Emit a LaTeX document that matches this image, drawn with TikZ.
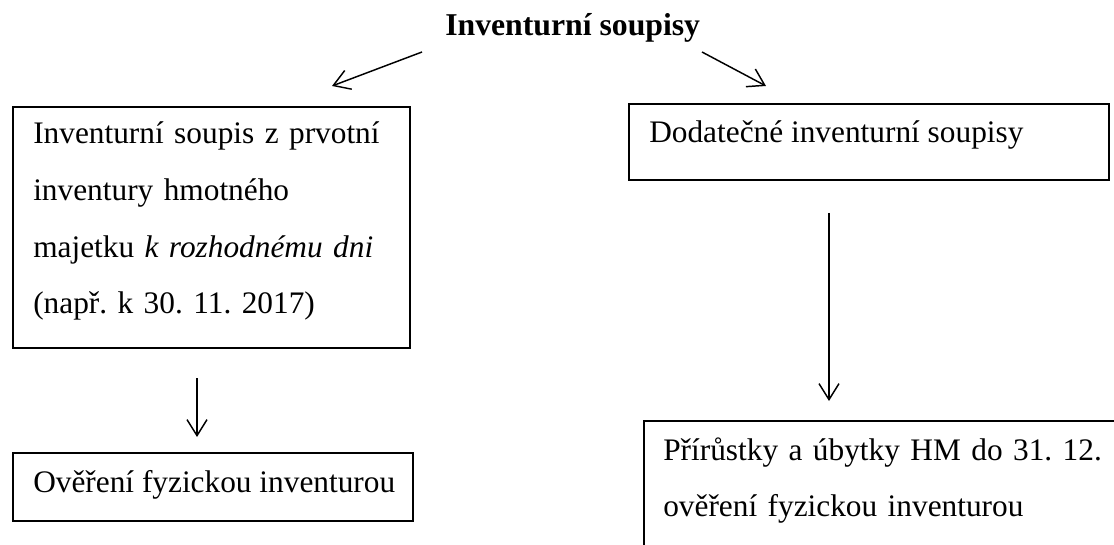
\documentclass[tikz,border=0pt]{standalone}
\usepackage{fontspec}
\setmainfont{Liberation Serif}
\usetikzlibrary{arrows.meta}
\frenchspacing
\begin{document}
\begin{tikzpicture}[x=0.75pt,y=-0.75pt,
  box/.style={draw, line width=1.2pt, rectangle, inner sep=0pt, anchor=north west},
  txt/.style={anchor=base west, inner sep=0pt, align=left, font=\fontsize{23.5}{42.5}\selectfont\frenchspacing},
  arr/.style={line width=1.1pt, -{Straight Barb[length=12pt,width=15pt]}}]
\useasboundingbox (0,0) rectangle (1114,545);
% title
\node[txt, font=\fontsize{23.8}{28}\selectfont\bfseries] (title) at (445,36) {Inventurní soupisy};
% boxes
\node[box, minimum width=297.75pt, minimum height=180.75pt] (b1) at (12,106) {};
\node[box, minimum width=300pt, minimum height=51pt] (b2) at (12,452) {};
\node[box, minimum width=360pt, minimum height=57pt] (b3) at (628,103) {};
\node[box, minimum width=375pt, minimum height=135pt] (b4) at (643,420) {};
% texts
\node[txt, text width=290pt] (t1) at (33,144) {Inventurní soupis z prvotní\\ inventury hmotného\\ majetku \textit{k rozhodnému dni}\\ (např. k 30. 11. 2017)};
\node[txt] (t2) at (33,492) {Ověření fyzickou inventurou};
\node[txt] (t3) at (649,143) {Dodatečné inventurní soupisy};
\node[txt, text width=340pt] (t4) at (663,460) {Přírůstky a úbytky HM do 31. 12.\\ ověření fyzickou inventurou};
% connector ends
\coordinate (l1s) at (422,52); \coordinate (l1e) at (332,86);
\coordinate (r1s) at (702,52); \coordinate (r1e) at (766,86);
\coordinate (l2s) at (197,378); \coordinate (l2e) at (197,437);
\coordinate (r2s) at (829,213); \coordinate (r2e) at (829,401);
\draw[arr] (l1s) -- (l1e);
\draw[arr] (r1s) -- (r1e);
\draw[arr] (l2s) -- (l2e);
\draw[arr] (r2s) -- (r2e);
\end{tikzpicture}
\end{document}
